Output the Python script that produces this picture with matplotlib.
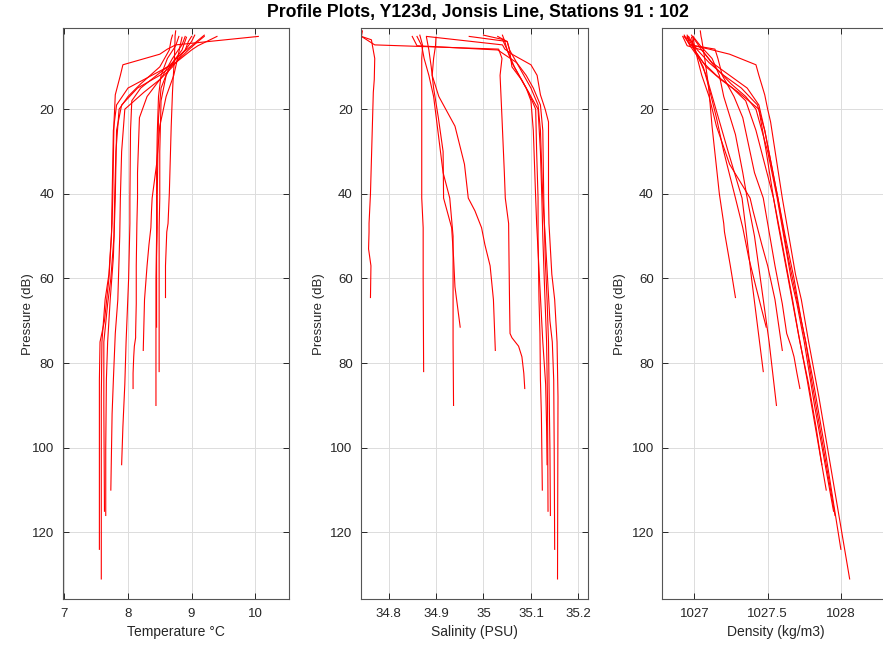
import numpy as np
import matplotlib.pyplot as plt

# --------------------------
# DATA (one row per station)
# --------------------------
stations = list(range(91, 103))

pressure = [
    [1.5, 2.8, 3.6, 8, 13, 16, 24, 40, 47, 49, 53, 57, 64.5],
    [3, 6, 10, 15, 22, 30, 41, 48, 55, 62, 71.5],
    [3, 5, 8, 12, 17, 24, 33, 41, 44, 48, 52, 57, 65, 77],
    [2.5, 5, 8, 12, 18, 30, 41, 48, 60, 82],
    [2.8, 4.8, 5.8, 8, 12, 17, 22, 35, 41, 47, 57, 66, 73, 74, 76, 78.5, 82.4, 86],
    [2.8, 5, 8, 12, 17, 26, 35, 41, 50, 60, 75, 90],
    [2.5, 4, 6, 9, 12, 15, 18, 25, 41, 47, 60, 75, 85, 95, 104],
    [2.8, 4, 6, 10, 13, 16, 20, 30, 41, 50, 65, 73, 84, 92, 110],
    [2.5, 3.5, 6, 10, 14, 17, 20, 30, 41, 50, 60, 66, 75, 90, 115],
    [2.8, 4, 6, 9, 12, 15, 19, 25, 41, 55, 65, 75, 84, 100, 116],
    [2.8, 5, 6, 9, 15, 19, 25, 41, 50, 60, 70, 75, 84, 100, 124],
    [2.8, 4.8, 5.8, 7, 9.5, 12, 16.6, 20, 23, 41, 47, 59, 65, 75, 88, 131],
]

temperature = [
    [8.75, 8.74, 8.74, 8.73, 8.71, 8.70, 8.68, 8.65, 8.63, 8.61, 8.60, 8.59, 8.59],
    [8.92, 8.85, 8.65, 8.52, 8.48, 8.47, 8.46, 8.46, 8.45, 8.45, 8.45],
    [8.85, 8.82, 8.78, 8.72, 8.6, 8.5, 8.45, 8.38, 8.37, 8.36, 8.33, 8.3, 8.26, 8.24],
    [9.2, 9.0, 8.75, 8.6, 8.52, 8.5, 8.5, 8.49, 8.49, 8.49],
    [8.9, 8.85, 8.8, 8.7, 8.55, 8.3, 8.18, 8.15, 8.15, 8.14, 8.13, 8.13, 8.12, 8.12, 8.1, 8.09, 8.08, 8.08],
    [8.8, 8.75, 8.62, 8.52, 8.48, 8.46, 8.45, 8.45, 8.45, 8.44, 8.44, 8.44],
    [9.05, 9.0, 8.9, 8.7, 8.45, 8.2, 8.06, 8.04, 8.03, 8.03, 8.01, 7.97, 7.95, 7.92, 7.9],
    [9.0, 8.95, 8.9, 8.7, 8.5, 8.25, 7.95, 7.9, 7.88, 7.87, 7.84, 7.8, 7.77, 7.75, 7.73],
    [8.7, 8.68, 8.65, 8.5, 8.2, 8.0, 7.86, 7.81, 7.79, 7.78, 7.73, 7.68, 7.62, 7.62, 7.63],
    [9.2, 9.1, 8.95, 8.75, 8.5, 8.15, 7.9, 7.82, 7.8, 7.77, 7.72, 7.68, 7.66, 7.65, 7.65],
    [9.4, 9.1, 9.0, 8.75, 8.0, 7.82, 7.77, 7.75, 7.74, 7.7, 7.63, 7.56, 7.55, 7.55, 7.55],
    [10.05, 8.75, 8.62, 8.5, 7.92, 7.88, 7.8, 7.79, 7.78, 7.76, 7.75, 7.7, 7.64, 7.59, 7.58, 7.58],
]

salinity = [
    [34.745, 34.743, 34.764, 34.771, 34.770, 34.768, 34.766, 34.762, 34.759, 34.759, 34.758, 34.763, 34.762],
    [34.88, 34.885, 34.89, 34.895, 34.905, 34.915, 34.916, 34.933, 34.937, 34.94, 34.951],
    [34.9, 34.899, 34.895, 34.892, 34.906, 34.94, 34.96, 34.968, 34.982, 34.996, 35.003, 35.014, 35.021, 35.025],
    [34.866, 34.872, 34.87, 34.87, 34.87, 34.87, 34.87, 34.873, 34.873, 34.874],
    [34.743, 34.771, 35.032, 35.039, 35.035, 35.037, 35.039, 35.044, 35.046, 35.053, 35.054, 35.055, 35.056, 35.06, 35.074, 35.081, 35.085, 35.087],
    [34.86, 34.87, 34.875, 34.885, 34.895, 34.905, 34.915, 34.929, 34.936, 34.936, 34.936, 34.937],
    [35.04, 35.045, 35.05, 35.06, 35.075, 35.09, 35.1, 35.105, 35.11, 35.112, 35.118, 35.125, 35.131, 35.133, 35.134],
    [35.03, 35.05, 35.055, 35.06, 35.08, 35.095, 35.11, 35.112, 35.115, 35.115, 35.117, 35.119, 35.12, 35.122, 35.124],
    [35.0, 35.04, 35.05, 35.065, 35.085, 35.1, 35.115, 35.12, 35.123, 35.125, 35.128, 35.13, 35.133, 35.135, 35.136],
    [34.97, 35.05, 35.055, 35.07, 35.09, 35.105, 35.12, 35.125, 35.127, 35.13, 35.134, 35.137, 35.138, 35.14, 35.141],
    [34.85, 34.86, 35.03, 35.07, 35.1, 35.115, 35.12, 35.125, 35.13, 35.135, 35.14, 35.145, 35.148, 35.149, 35.15],
    [34.88, 35.04, 35.045, 35.06, 35.10, 35.113, 35.12, 35.13, 35.137, 35.137, 35.138, 35.144, 35.15, 35.155, 35.157, 35.156],
]

density = [
    [1027.04, 1027.045, 1027.05, 1027.07, 1027.09, 1027.10, 1027.12, 1027.17, 1027.20, 1027.205, 1027.225, 1027.245, 1027.28],
    [1026.98, 1027.0, 1027.06, 1027.1, 1027.15, 1027.2, 1027.28, 1027.33, 1027.37, 1027.42, 1027.49],
    [1026.99, 1027.0, 1027.02, 1027.05, 1027.1, 1027.15, 1027.24, 1027.38, 1027.4, 1027.43, 1027.46, 1027.5, 1027.55, 1027.6],
    [1026.93, 1026.97, 1027.03, 1027.08, 1027.13, 1027.23, 1027.325, 1027.35, 1027.39, 1027.47],
    [1026.95, 1026.97, 1027.14, 1027.16, 1027.19, 1027.27, 1027.33, 1027.41, 1027.47, 1027.5, 1027.55, 1027.6, 1027.63, 1027.64, 1027.66, 1027.68, 1027.7, 1027.72],
    [1026.99, 1027.04, 1027.12, 1027.17, 1027.2, 1027.28, 1027.33, 1027.36, 1027.41, 1027.45, 1027.51, 1027.56],
    [1026.95, 1026.97, 1027.0, 1027.06, 1027.15, 1027.26, 1027.35, 1027.42, 1027.54, 1027.57, 1027.64, 1027.72, 1027.78, 1027.83, 1027.87],
    [1026.96, 1026.98, 1027.0, 1027.08, 1027.18, 1027.3, 1027.44, 1027.49, 1027.54, 1027.59, 1027.67, 1027.71, 1027.77, 1027.81, 1027.9],
    [1026.98, 1027.0, 1027.05, 1027.14, 1027.25, 1027.35, 1027.42, 1027.5, 1027.565, 1027.61, 1027.66, 1027.7, 1027.75, 1027.82, 1027.95],
    [1026.93, 1026.98, 1027.02, 1027.1, 1027.2, 1027.32, 1027.43, 1027.48, 1027.57, 1027.64, 1027.7, 1027.76, 1027.8, 1027.88, 1027.96],
    [1026.92, 1026.95, 1027.05, 1027.12, 1027.36, 1027.44, 1027.48, 1027.57, 1027.62, 1027.68, 1027.73, 1027.76, 1027.81, 1027.89, 1028.0],
    [1026.93, 1026.97, 1027.1, 1027.24, 1027.42, 1027.44, 1027.48, 1027.5, 1027.52, 1027.6, 1027.63, 1027.69, 1027.73, 1027.78, 1027.85, 1028.06],
]

title = "Profile Plots, Y123d, Jonsis Line, Stations %d : %d" % (stations[0], stations[-1])
xlabels = ["Temperature \u00b0C", "Salinity (PSU)", "Density (kg/m3)"]
xticks = [[7, 8, 9, 10], [34.8, 34.9, 35, 35.1, 35.2], [1027, 1027.5, 1028]]
xticklabels = [["7", "8", "9", "10"], ["34.8", "34.9", "35", "35.1", "35.2"], ["1027", "1027.5", "1028"]]
xlims = [(6.97, 10.54), (34.742, 35.22), (1026.78, 1028.33)]
yticks = [20, 40, 60, 80, 100, 120]
ylim = (0.9, 135.8)

# --------------------------
# Figure (MATLAB-like styling)
# --------------------------
plt.rcParams['font.family'] = ['Liberation Sans', 'DejaVu Sans']
axcol = '#262626'

fig = plt.figure(figsize=(8.83, 6.48), dpi=100)
lefts = [0.0708, 0.4088, 0.7500]
ylabel_x = [-0.125, -0.16, -0.16]
variables = [temperature, salinity, density]

for k in range(3):
    ax = fig.add_axes([lefts[k], 0.0752, 0.257, 0.881])
    for p, v in zip(pressure, variables[k]):
        ax.plot(v, p, color='red', lw=0.8)
    ax.set_xlim(*xlims[k])
    ax.set_ylim(ylim[1], ylim[0])
    ax.set_xticks(xticks[k])
    ax.set_xticklabels(xticklabels[k])
    ax.set_yticks(yticks)
    ax.grid(True, color='#dcdcdc', lw=0.7)
    ax.set_axisbelow(True)
    ax.tick_params(direction='in', top=True, right=True, length=4, width=0.7,
                   colors=axcol, labelsize=9.5, pad=6)
    for s in ax.spines.values():
        s.set_color('#555555')
        s.set_linewidth(0.8)
    ax.set_xlabel(xlabels[k], fontsize=10, color=axcol, labelpad=4)
    ax.set_ylabel("Pressure (dB)", fontsize=9.5, color=axcol)
    ax.yaxis.set_label_coords(ylabel_x[k], 0.5)

fig.text(0.541, 0.981, title, ha='center', va='center', fontsize=12.7,
         fontweight='bold', color='black')

plt.savefig("out.png", dpi=100)
plt.close()
